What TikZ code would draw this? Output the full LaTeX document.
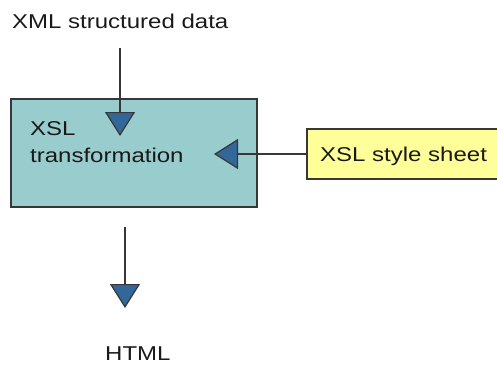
\documentclass[tikz,border=0pt]{standalone}
\usepackage{fontspec}
\setmainfont[FakeStretch=1.2]{Liberation Sans}
\usetikzlibrary{arrows.meta}
\definecolor{boxteal}{RGB}{153,204,204}
\definecolor{noteyellow}{RGB}{255,255,153}
\definecolor{tipblue}{RGB}{51,102,153}
\definecolor{inkgray}{RGB}{25,25,25}
\definecolor{linegray}{RGB}{55,55,55}
\tikzset{
  label/.style={anchor=base west, inner sep=0pt, text=inkgray, font=\fontsize{20}{24}\selectfont},
  procbox/.style={draw=linegray, line width=1.6pt, fill=boxteal, inner sep=0pt},
  notebox/.style={draw=linegray, line width=1.3pt, fill=noteyellow, inner sep=0pt},
  flow/.style={draw=linegray, line width=1.4pt,
    -{Triangle[length=24pt, width=30pt, fill=tipblue, line width=1.2pt]}},
}
\begin{document}
\begin{tikzpicture}[x=1pt, y=-1pt]
\useasboundingbox (0,0) rectangle (497,365);

% processing box and style sheet box
\node[procbox, minimum width=246pt, minimum height=108pt] (xslt) at (134,153) {};
\node[notebox, minimum width=192pt, minimum height=50pt] (sheet) at (403,154) {};

% texts
\node[label] (xml) at (12,28) {XML structured data};
\node[label] (xsl) at (30,135) {XSL};
\node[label] (trans) at (30,162) {transformation};
\node[label] (sheettxt) at (320,161) {XSL style sheet};
\node[label] (html) at (105,360) {HTML};

% connector ends
\coordinate (inTop) at (120,48);
\coordinate (inTip) at (120,136);
\coordinate (sideTip) at (214,154);
\coordinate (outTop) at (125,227);
\coordinate (outTip) at (125,308);

\draw[flow] (inTop) -- (inTip);
\draw[flow] (sheet.west) -- (sideTip);
\draw[flow] (outTop) -- (outTip);
\end{tikzpicture}
\end{document}
